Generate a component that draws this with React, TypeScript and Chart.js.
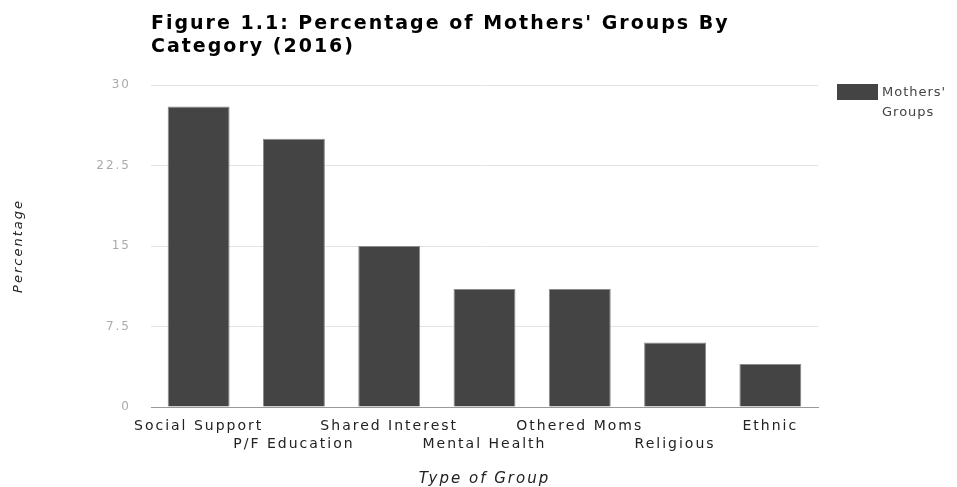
import React, { useEffect, useRef } from "react";
import { Chart, registerables } from "chart.js";

Chart.register(...registerables);

const categories = [
  "Social Support",
  "P/F Education",
  "Shared Interest",
  "Mental Health",
  "Othered Moms",
  "Religious",
  "Ethnic",
];
const percentages = [28, 25, 15, 11, 11, 6, 4];
const yTicks = [0, 7.5, 15, 22.5, 30];
const seriesLabel = "Mothers' Groups";
const titleLines = ["Figure 1.1: Percentage of Mothers' Groups By", "Category (2016)"];
const xTitle = "Type of Group";
const yTitle = "Percentage";

const FONT = "'DejaVu Sans', sans-serif";
const BAR = "#444444";
const W = 957;
const H = 487;
const AREA = { left: 151, right: 818, top: 85, bottom: 407 };
const SPACING = "2px";

const spacingPlugin = {
  id: "letterSpacing",
  beforeInit(chart: any) {
    chart.ctx.letterSpacing = SPACING;
  },
  beforeUpdate(chart: any) {
    chart.ctx.letterSpacing = SPACING;
  },
  beforeLayout(chart: any) {
    chart.ctx.letterSpacing = SPACING;
  },
  beforeDraw(chart: any) {
    chart.ctx.letterSpacing = SPACING;
  },
};

const sideLegendPlugin = {
  id: "sideLegend",
  afterDraw(chart: any) {
    const { ctx, chartArea } = chart;
    const ds = chart.data.datasets[0];
    const x = chartArea.right + 19;
    const y = chartArea.top - 1;
    ctx.save();
    ctx.fillStyle = ds.backgroundColor;
    ctx.fillRect(x, y, 41, 16);
    ctx.font = `13px ${FONT}`;
    ctx.letterSpacing = "1px";
    ctx.fillStyle = "#444444";
    ctx.textAlign = "left";
    ctx.textBaseline = "alphabetic";
    String(ds.label)
      .split(" ")
      .forEach((word: string, i: number) => {
        ctx.fillText(word, x + 45, y + 12 + i * 20);
      });
    ctx.restore();
  },
};

export default function App() {
  const canvasRef = useRef<HTMLCanvasElement | null>(null);

  useEffect(() => {
    const canvas = canvasRef.current;
    if (!canvas) return;
    const chart = new Chart(canvas, {
      type: "bar",
      data: {
        labels: categories,
        datasets: [
          {
            label: seriesLabel,
            data: percentages,
            backgroundColor: BAR,
            borderColor: "#8a8a8a",
            borderWidth: 1,
            categoryPercentage: 1,
            barPercentage: 0.65,
          },
        ],
      },
      options: {
        animation: false,
        responsive: false,
        devicePixelRatio: 1,
        layout: { padding: { left: 0, top: 0, bottom: 0, right: W - AREA.right } },
        plugins: {
          legend: { display: false },
          tooltip: { enabled: false },
          title: {
            display: true,
            text: titleLines,
            align: "start",
            fullSize: false,
            color: "#000000",
            font: { family: FONT, size: 19, weight: "bold", lineHeight: 23 / 19 },
            padding: { top: 13, bottom: 26 },
          },
        },
        scales: {
          x: {
            afterFit: (s: any) => {
              s.height = H - AREA.bottom;
            },
            ticks: {
              color: "#222222",
              autoSkip: false,
              maxRotation: 0,
              minRotation: 0,
              padding: 10,
              font: { family: FONT, size: 14, lineHeight: 1.3 },
              callback: (_v: any, i: number) =>
                i % 2 === 0 ? [categories[i], ""] : ["", categories[i]],
            },
            grid: { display: false, drawTicks: false },
            border: { display: true, color: "#999999", width: 1 },
            title: {
              display: true,
              text: xTitle,
              color: "#222222",
              font: { family: FONT, size: 15, style: "italic", lineHeight: 1 },
              padding: { top: 0, bottom: 0 },
            },
          },
          y: {
            min: 0,
            max: 30,
            afterBuildTicks: (s: any) => {
              s.ticks = yTicks.map((v) => ({ value: v }));
            },
            afterFit: (s: any) => {
              s.width = AREA.left;
            },
            ticks: {
              color: "#aaaaaa",
              padding: 20,
              font: { family: FONT, size: 12 },
            },
            grid: {
              drawTicks: false,
              color: (c: any) => (c.tick && c.tick.value === 0 ? "#999999" : "#e3e3e3"),
            },
            border: { display: false },
            title: {
              display: true,
              text: yTitle,
              color: "#222222",
              font: { family: FONT, size: 13, style: "italic", lineHeight: 1 },
              padding: { top: 12, bottom: 0 },
            },
          },
        },
      },
      plugins: [spacingPlugin, sideLegendPlugin],
    } as any);
    return () => chart.destroy();
  }, []);

  return (
    <div
      style={{
        position: "fixed",
        left: 0,
        top: 0,
        width: W,
        height: H,
        background: "#ffffff",
      }}
    >
      <canvas ref={canvasRef} width={W} height={H} style={{ width: W, height: H, display: "block" }} />
    </div>
  );
}
